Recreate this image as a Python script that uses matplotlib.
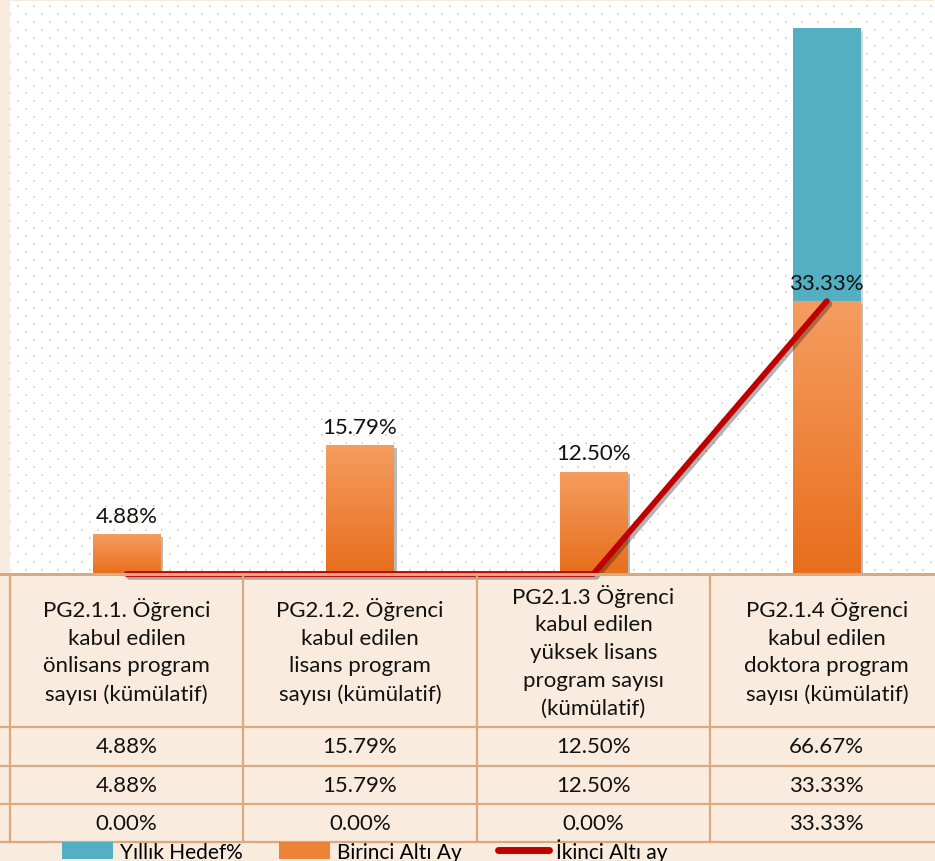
import numpy as np
import matplotlib.pyplot as plt
import matplotlib.patheffects as pe
from matplotlib.patches import Patch
from matplotlib.lines import Line2D
from matplotlib.colors import LinearSegmentedColormap
from matplotlib.transforms import blended_transform_factory

plt.rcParams['font.family'] = ['Lato', 'DejaVu Sans']

# data
categories = [
    "PG2.1.1. Öğrenci\nkabul edilen\nönlisans program\nsayısı (kümülatif)",
    "PG2.1.2. Öğrenci\nkabul edilen\nlisans program\nsayısı (kümülatif)",
    "PG2.1.3 Öğrenci\nkabul edilen\nyüksek lisans\nprogram sayısı\n(kümülatif)",
    "PG2.1.4 Öğrenci\nkabul edilen\ndoktora program\nsayısı (kümülatif)",
]
series_names = ["Yıllık Hedef%", "Birinci Altı Ay", "İkinci Altı ay"]
yillik_hedef = [4.88, 15.79, 12.50, 66.67]
birinci_alti_ay = [4.88, 15.79, 12.50, 33.33]
ikinci_alti_ay = [0.00, 0.00, 0.00, 33.33]

BLUE = "#55afc3"
ORANGE = "#ee8236"
RED = "#c00000"
TAN_BG = "#f9ecde"
GRID = "#d9aa80"
FS = 16

W, H = 935, 862
fig = plt.figure(figsize=(W / 100, H / 100), dpi=100, facecolor=TAN_BG)

def fy(py):
    return 1 - py / H

# plot area
ax_left, ax_right = 10, 943.5
ax_top, ax_bot = 2, 575
ax = fig.add_axes([ax_left / W, fy(ax_bot), (ax_right - ax_left) / W, (ax_bot - ax_top) / H])
ax.set_facecolor("white")
x = np.arange(len(categories))
for s in ax.spines.values():
    s.set_visible(False)
ax.set_xticks([])
ax.set_yticks([])

# faint dotted texture of the plot area
dx, dy = np.meshgrid(np.arange(-0.5, 3.6, 0.0686), np.arange(0.5, 70, 0.97))
odd = (np.round((dy - 0.5) / 0.97) % 2).astype(bool)
ax.scatter(dx + odd * 0.0343, dy, s=3, marker="s", color="#f2d8bb", lw=0, zorder=0)

shadow = [pe.SimplePatchShadow(offset=(2, -2), shadow_rgbFace="#888888", alpha=0.35), pe.Normal()]
bw = 0.29
b1 = ax.bar(x, yillik_hedef, bw, color=BLUE, zorder=2, path_effects=shadow)
b2 = ax.bar(x, birinci_alti_ay, bw, color=ORANGE, zorder=3, path_effects=shadow)

# orange gradient fill
cmap = LinearSegmentedColormap.from_list("org", ["#e86e1c", "#f59d60"])
grad = np.linspace(0, 1, 256).reshape(-1, 1)
for r in b2:
    bx, by = r.get_x(), r.get_y()
    im = ax.imshow(grad, cmap=cmap, origin="lower", aspect="auto",
                   extent=[bx, bx + r.get_width(), by, by + r.get_height()], zorder=3.5)
    im.set_clip_path(r)
ax.set_xlim(-0.5, 3.5)
ax.set_ylim(0, 70)

for xi, v in zip(x, birinci_alti_ay):
    ax.text(xi, v + 1.0, f"{v:.2f}%", ha="center", va="bottom", fontsize=FS, color="#111111", zorder=6)

ax.plot(x, ikinci_alti_ay, color=RED, lw=4.2, solid_capstyle="round", zorder=5, clip_on=False,
        path_effects=[pe.SimpleLineShadow(offset=(2, -2), alpha=0.3), pe.Normal()])

# data table below the plot
tr = blended_transform_factory(ax.transData, fig.transFigure)
row_lines = [575, 728, 767, 805, 843]
for py in row_lines:
    fig.add_artist(Line2D([0, 1], [fy(py), fy(py)], transform=fig.transFigure,
                          color=GRID, lw=1.6 if py != 575 else 2.2, zorder=1))
for xb in np.arange(-0.5, 4.0, 1.0):
    fig.add_artist(Line2D([xb, xb], [fy(575), fy(843)], transform=tr, color=GRID, lw=1.6))

for xi, lab in zip(x, categories):
    fig.text(xi, fy(651.5), lab, transform=tr, ha="center", va="center",
             fontsize=FS, linespacing=1.48, color="#111111")

row_centers = [747.5, 786, 824]
for rc, vals in zip(row_centers, [yillik_hedef, birinci_alti_ay, ikinci_alti_ay]):
    for xi, v in zip(x, vals):
        fig.text(xi, fy(rc), f"{v:.2f}%", transform=tr, ha="center", va="center",
                 fontsize=FS, color="#111111")

# legend
handles = [Patch(facecolor=BLUE, edgecolor="none"),
           Patch(facecolor=ORANGE, edgecolor="none"),
           Line2D([], [], color=RED, lw=5, solid_capstyle="round")]
fig.legend(handles, series_names, loc="center left", bbox_to_anchor=(62 / W, fy(851)),
           ncol=3, frameon=False, fontsize=15, handlelength=2.45, handleheight=0.9,
           handletextpad=0.33, columnspacing=1.75, borderpad=0, borderaxespad=0)

fig.savefig("out.png", dpi=100, facecolor=TAN_BG)
